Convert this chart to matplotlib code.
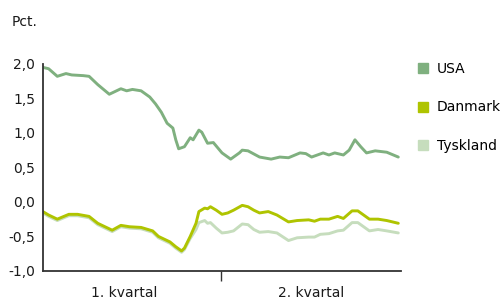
import matplotlib
matplotlib.use("Agg")
import matplotlib.pyplot as plt
from matplotlib.patches import Patch
from matplotlib.ticker import FixedLocator, FuncFormatter

plt.rcParams['font.family'] = ['DejaVu Sans']

# handelsdage fra start af 1. kvartal
usa_dage = [0, 2, 5, 8, 10, 14, 16, 19, 23, 27, 29, 31, 34, 37, 39, 41, 43, 45, 46, 47,
            49, 51, 52, 54, 55, 57, 59, 62, 65, 68, 69, 71, 75, 79, 82, 85, 89, 91, 93, 97,
            99, 101, 104, 106, 108, 110, 112, 115, 117, 119, 123]
usa = [1.95, 1.93, 1.82, 1.86, 1.84, 1.83, 1.82, 1.70, 1.56, 1.64, 1.61, 1.63, 1.61, 1.52,
       1.42, 1.30, 1.14, 1.07, 0.90, 0.77, 0.80, 0.93, 0.90, 1.04, 1.01, 0.85, 0.86, 0.71,
       0.62, 0.71, 0.75, 0.74, 0.65, 0.62, 0.65, 0.64, 0.71, 0.70, 0.65, 0.71, 0.68, 0.71,
       0.68, 0.75, 0.90, 0.80, 0.71, 0.74, 0.73, 0.72, 0.65]

eu_dage = [0, 2, 5, 9, 12, 16, 19, 21, 24, 27, 30, 34, 38, 40, 44, 46, 48, 49, 51, 53,
           54, 56, 57, 58, 60, 62, 64, 66, 69, 71, 73, 75, 78, 81, 85, 88, 92, 94, 96, 99,
           102, 104, 107, 109, 113, 116, 119, 123]
danmark = [-0.14, -0.19, -0.25, -0.18, -0.18, -0.21, -0.31, -0.35, -0.41, -0.34,
           -0.36, -0.37, -0.42, -0.50, -0.58, -0.65, -0.71, -0.67, -0.50, -0.31,
           -0.14, -0.09, -0.10, -0.07, -0.12, -0.18, -0.16, -0.12, -0.05, -0.07,
           -0.12, -0.16, -0.14, -0.19, -0.29, -0.27, -0.26, -0.28, -0.25, -0.25,
           -0.21, -0.24, -0.13, -0.13, -0.25, -0.25, -0.27, -0.31]
tyskland = [-0.16, -0.21, -0.27, -0.20, -0.20, -0.23, -0.33, -0.37, -0.43, -0.36,
            -0.38, -0.39, -0.44, -0.52, -0.60, -0.67, -0.73, -0.69, -0.53, -0.40,
            -0.30, -0.27, -0.31, -0.30, -0.38, -0.45, -0.44, -0.42, -0.32, -0.33,
            -0.40, -0.44, -0.43, -0.45, -0.56, -0.52, -0.51, -0.51, -0.47, -0.46,
            -0.42, -0.41, -0.30, -0.30, -0.42, -0.40, -0.42, -0.45]

kvartaler = ['1. kvartal', '2. kvartal']
serier = ['USA', 'Danmark', 'Tyskland']
farver = ['#7fb07f', '#afc400', '#c6ddbd']

fig = plt.figure(figsize=(5.04, 3.0), dpi=100)
ax = fig.add_axes([0.085, 0.097, 0.711, 0.69])

ax.plot(eu_dage, tyskland, color=farver[2], lw=2.1, solid_capstyle='round')
ax.plot(eu_dage, danmark, color=farver[1], lw=2.1, solid_capstyle='round')
ax.plot(usa_dage, usa, color=farver[0], lw=2.1, solid_capstyle='round')

ax.set_xlim(0, 124)
ax.set_ylim(-1.0, 2.0)
ax.set_yticks([-1.0, -0.5, 0.0, 0.5, 1.0, 1.5, 2.0])
ax.yaxis.set_major_formatter(FuncFormatter(lambda v, p: f"{v:.1f}".replace('.', ',')))
ax.tick_params(axis='y', length=0, pad=5.5, labelsize=10, colors='#1a1a1a')

ax.xaxis.set_major_locator(FixedLocator([61.5]))
ax.xaxis.set_major_formatter(FuncFormatter(lambda v, p: ''))
ax.xaxis.set_minor_locator(FixedLocator([28, 93]))
ax.set_xticklabels(kvartaler, minor=True)
ax.tick_params(axis='x', which='major', length=7, width=1, color='#333333')
ax.tick_params(axis='x', which='minor', length=0, pad=11, labelsize=10, colors='#1a1a1a')

for s in ['top', 'right']:
    ax.spines[s].set_visible(False)
for s in ['left', 'bottom']:
    ax.spines[s].set_color('#333333')
    ax.spines[s].set_linewidth(1.3)

fig.text(0.024, 0.927, 'Pct.', fontsize=10, color='#1a1a1a', va='center')

handles = [Patch(color=c, label=n) for n, c in zip(serier, farver)]
fig.legend(handles=handles, loc='upper left', bbox_to_anchor=(0.829, 0.793),
           frameon=False, fontsize=10, handlelength=0.72, handleheight=0.72,
           handletextpad=0.65, labelspacing=1.75, borderaxespad=0, borderpad=0)

fig.savefig('out.png', dpi=100)
